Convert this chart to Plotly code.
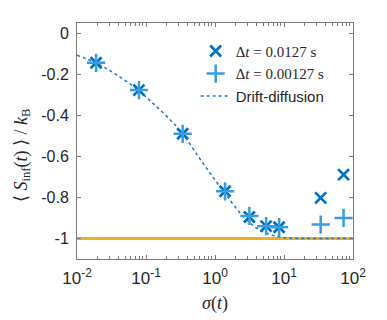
import plotly.graph_objects as go

# data
sigma_pts = [0.0189, 0.079, 0.34, 1.4, 3.15, 5.5, 8.5, 34, 73]
s_dt_0127 = [-0.144, -0.277, -0.49, -0.77, -0.895, -0.94, -0.945, -0.802, -0.689]
s_dt_00127 = [-0.144, -0.277, -0.49, -0.77, -0.89, -0.94, -0.945, -0.932, -0.90]

sigma_dd = [0.01, 0.0189, 0.035, 0.079, 0.12, 0.2, 0.34, 0.6, 1.0, 1.5, 2.7, 4.5, 8, 12, 20, 50, 100]
s_dd = [-0.107, -0.145, -0.196, -0.28, -0.335, -0.405, -0.49, -0.61, -0.715, -0.795, -0.9, -0.96, -0.99, -0.998, -1.0, -1.0, -1.0]

sigma_ref = [0.01, 100]
s_ref = [-1.0, -1.0]

x_ticks = [0.01, 0.1, 1, 10, 100]
x_ticktext = ["10<sup>-2</sup>", "10<sup>-1</sup>", "10<sup>0</sup>", "10<sup>1</sup>", "10<sup>2</sup>"]
x_minor = [k * d for d in x_ticks[:-1] for k in range(2, 10)]
y_ticks = [0, -0.2, -0.4, -0.6, -0.8, -1]
y_ticktext = ["0", "-0.2", "-0.4", "-0.6", "-0.8", "-1"]

SERIF = "Liberation Serif, DejaVu Serif, serif"
SANS = "Liberation Sans, Arial, Helvetica, sans-serif"
AX = "#7a7a7a"
TXT = "#262626"

fig = go.Figure()
fig.add_trace(go.Scatter(x=sigma_ref, y=s_ref, mode="lines",
                         line=dict(color="#EDB120", width=3), showlegend=False))
fig.add_trace(go.Scatter(x=sigma_dd, y=s_dd, mode="lines", name="Drift-diffusion",
                         line=dict(color="#1f78c8", width=1.5, dash="3px,3px",
                                   shape="spline", smoothing=1.0)))
fig.add_trace(go.Scatter(x=sigma_pts, y=s_dt_0127, mode="markers",
                         name=f'<span style="font-family:{SERIF}">Δ<i>t</i> = 0.0127 s</span>',
                         marker=dict(symbol="x-thin", size=11, line=dict(color="#0072BD", width=2.7))))
fig.add_trace(go.Scatter(x=sigma_pts, y=s_dt_00127, mode="markers",
                         name=f'<span style="font-family:{SERIF}">Δ<i>t</i> = 0.00127 s</span>',
                         marker=dict(symbol="cross-thin", size=13, line=dict(color="#3a9ce0", width=2.5))))

fig.data[2].legendrank = 1
fig.data[3].legendrank = 2
fig.data[1].legendrank = 3

fig.update_layout(
    width=387, height=320,
    margin=dict(l=77, r=34, t=23, b=61),
    paper_bgcolor="white", plot_bgcolor="white",
    hovermode=False, dragmode=False,
    font=dict(family=SANS, color=TXT, size=15),
    legend=dict(x=0.43, y=0.95, xanchor="left", yanchor="top",
                bgcolor="rgba(0,0,0,0)", font=dict(size=15, color=TXT),
                itemwidth=30, tracegroupgap=0),
    xaxis=dict(type="log", range=[-2, 2], tickmode="array", tickvals=x_ticks, ticktext=x_ticktext,
               ticks="inside", ticklen=4, tickcolor=AX, showline=True, linecolor=AX,
               linewidth=1, mirror="ticks", showgrid=False, zeroline=False,
               automargin=False, ticklabelstandoff=4, fixedrange=True,
               tickfont=dict(size=17, family=SANS, color=TXT),
               minor=dict(tickmode="array", tickvals=x_minor, ticks="inside", ticklen=3,
                          tickcolor=AX, tickwidth=1, showgrid=False),
               title=dict(text="<i>σ</i>(<i>t</i>)", font=dict(family=SERIF, size=18, color=TXT),
                          standoff=8)),
    yaxis=dict(range=[-1.1, 0.05], tickvals=y_ticks, ticktext=y_ticktext,
               ticks="inside", ticklen=4, tickcolor=AX, showline=True, linecolor=AX,
               linewidth=1, mirror="ticks", showgrid=False, zeroline=False,
               automargin=False, ticklabelstandoff=4, fixedrange=True,
               tickfont=dict(size=16, family=SANS, color=TXT)),
)

fig.add_annotation(
    text="⟨ <i>S</i><sub>inf</sub>(<i>t</i>) ⟩ / <i>k</i><sub>B</sub>",
    xref="paper", yref="paper", x=-0.2, y=0.44, textangle=-90,
    showarrow=False, font=dict(family=SERIF, size=18, color=TXT),
    xanchor="center", yanchor="middle")

fig.write_html("out.html",
               config={"staticPlot": True, "displayModeBar": False},
               post_script="document.body.style.margin='0';document.body.style.padding='0';")
